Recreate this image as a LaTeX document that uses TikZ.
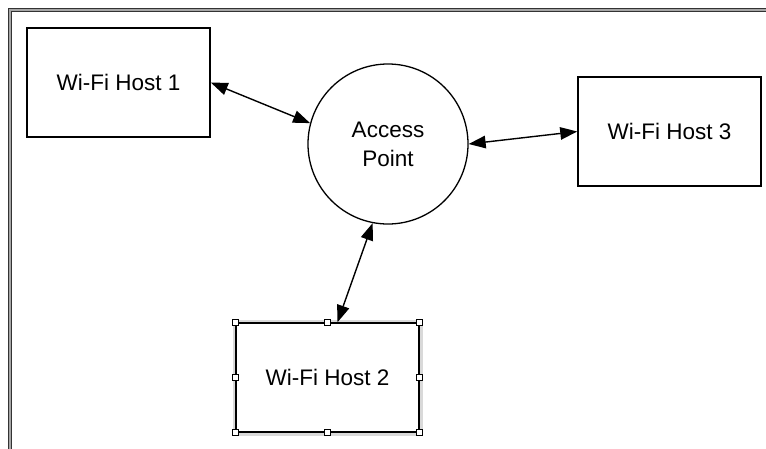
\documentclass[tikz,border=0pt]{standalone}
\usepackage{fontspec}
\setmainfont{Liberation Sans}
\usetikzlibrary{arrows.meta}

\begin{document}
\begin{tikzpicture}[x=1pt, y=-1pt,
    font=\fontsize{22.5}{29}\selectfont,
    host/.style={draw, line width=1.5, minimum width=183, minimum height=109, inner sep=0},
    ap/.style={draw, circle, line width=1.3, minimum size=160, inner sep=0, align=center},
    link/.style={{Triangle[length=17pt,width=12.5pt]}-{Triangle[length=17pt,width=12.5pt]}, line width=1.4},
    handle/.style={draw, fill=white, line width=0.9, minimum size=6, inner sep=0}]
  \useasboundingbox (0,0) rectangle (766,448);

  % frame
  \coordinate (F1) at (10,460);
  \coordinate (F2) at (10,10);
  \coordinate (F3) at (780,10);
  \draw[line width=4, black!80] (F1) -- (F2) -- (F3);
  \draw[line width=1.1, gray!70] (F1) -- (F2) -- (F3);

  % selection band behind host 2
  \fill[gray!30] (232.5,319.5) rectangle (422.5,435.5);

  \node[host] (h1) at (118.5,82.5) {Wi-Fi Host 1};
  \node[host] (h3) at (669.5,131.5) {Wi-Fi Host 3};
  \node[host, fill=white] (h2) at (327.5,377.5) {Wi-Fi Host 2};
  \node[ap] (ap) at (388,144) {Access\\Point};

  \draw[link] (h1.east) -- (ap.165);
  \draw[link] (ap.east) -- (h3.west);
  \draw[link] (ap.259) -- ([xshift=10]h2.north);

  % handles
  \foreach \a [count=\i] in {north west, north, north east, east, south east, south, south west, west}
    \node[handle] (hd\i) at (h2.\a) {};
\end{tikzpicture}
\end{document}
